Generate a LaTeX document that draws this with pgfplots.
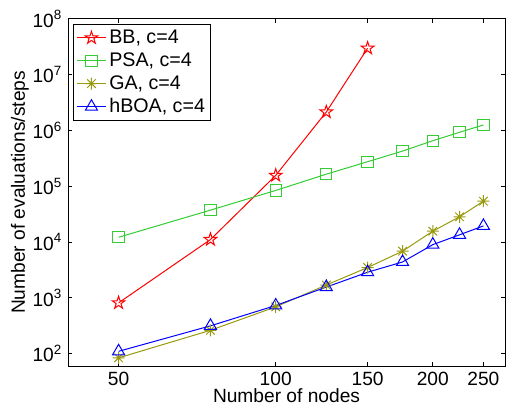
\documentclass[border=0pt]{standalone}
\usepackage{pgfplots}
\pgfplotsset{compat=1.18}
\usepackage{fontspec}
\setmainfont{Liberation Sans}
\usetikzlibrary{calc}

% open five-pointed star (MATLAB 'p')
\pgfdeclareplotmark{pentagram}{%
  \pgfpathmoveto{\pgfpointpolar{90}{\pgfplotmarksize}}%
  \pgfpathlineto{\pgfpointpolar{126}{0.382\pgfplotmarksize}}%
  \pgfpathlineto{\pgfpointpolar{162}{\pgfplotmarksize}}%
  \pgfpathlineto{\pgfpointpolar{198}{0.382\pgfplotmarksize}}%
  \pgfpathlineto{\pgfpointpolar{234}{\pgfplotmarksize}}%
  \pgfpathlineto{\pgfpointpolar{270}{0.382\pgfplotmarksize}}%
  \pgfpathlineto{\pgfpointpolar{306}{\pgfplotmarksize}}%
  \pgfpathlineto{\pgfpointpolar{342}{0.382\pgfplotmarksize}}%
  \pgfpathlineto{\pgfpointpolar{18}{\pgfplotmarksize}}%
  \pgfpathlineto{\pgfpointpolar{54}{0.382\pgfplotmarksize}}%
  \pgfpathclose
  \pgfusepathqstroke}
% eight-armed asterisk (MATLAB '*')
\pgfdeclareplotmark{mstar}{%
  \pgfpathmoveto{\pgfqpoint{-\pgfplotmarksize}{0pt}}\pgfpathlineto{\pgfqpoint{\pgfplotmarksize}{0pt}}%
  \pgfpathmoveto{\pgfqpoint{0pt}{-\pgfplotmarksize}}\pgfpathlineto{\pgfqpoint{0pt}{\pgfplotmarksize}}%
  \pgfpathmoveto{\pgfpointpolar{45}{\pgfplotmarksize}}\pgfpathlineto{\pgfpointpolar{225}{\pgfplotmarksize}}%
  \pgfpathmoveto{\pgfpointpolar{135}{\pgfplotmarksize}}\pgfpathlineto{\pgfpointpolar{315}{\pgfplotmarksize}}%
  \pgfusepathqstroke}

\definecolor{mgreen}{rgb}{0.2,0.8,0.2}
\definecolor{molive}{rgb}{0.6,0.6,0.05}

\begin{document}
\begin{tikzpicture}[font=\fontsize{11.5}{13.8}\selectfont]
\begin{axis}[
    name=ax,
    scale only axis,
    width=262.2pt, height=208.2pt,
    xmode=log, ymode=log,
    xmin=40, xmax=275,
    ymin=60, ymax=1e8,
    xtick={50,100,150,200,250},
    xticklabels={50,100,150,200,250},
    ytick={1e2,1e3,1e4,1e5,1e6,1e7,1e8},
    yticklabels={10\textsuperscript{2},10\textsuperscript{3},10\textsuperscript{4},10\textsuperscript{5},10\textsuperscript{6},10\textsuperscript{7},10\textsuperscript{8}},
    xminorticks=false, yminorticks=false,
    major tick length=2.6pt,
    tick align=inside,
    axis line style={line width=0.6pt},
    every tick/.style={black, line width=0.6pt},
    xlabel={Number of nodes},
    ylabel={Number of evaluations/steps},
    xlabel style={at={(axis description cs:0.5,-0.085)}, anchor=center},
    ylabel style={at={(axis description cs:-0.11,0.5)}, anchor=center},
    legend style={
        at={(axis description cs:0.012,0.985)},
        anchor=north west,
        draw=black, line width=0.6pt,
        inner sep=1.5pt,
        row sep=0.8pt,
        nodes={font=\fontsize{11.8}{14}\selectfont, inner sep=1.6pt},
    },
    legend image code/.code={%
        \draw[mark repeat=2, mark phase=2] plot coordinates {(0cm,0cm) (0.31cm,0cm) (0.62cm,0cm)};},
    legend cell align={left},
    every axis plot/.append style={line width=0.6pt},
]
\addplot[red, mark=pentagram, mark size=4pt, mark options={solid}] coordinates {
    (50,813) (75,11100) (100,157000) (125,2150000) (150,29900000)
};
\addlegendentry{BB, c=4}
\addplot[mgreen, mark=square, mark size=3.4pt] coordinates {
    (50,12200) (75,37400) (100,84300) (125,165000) (150,276000)
    (175,428000) (200,658000) (225,929000) (250,1260000)
};
\addlegendentry{PSA, c=4}
\addplot[molive, mark=mstar, mark size=3.6pt] coordinates {
    (50,84) (75,262) (100,690) (125,1700) (150,3500)
    (175,6870) (200,15700) (225,28400) (250,54200)
};
\addlegendentry{GA, c=4}
\addplot[blue, mark=triangle, mark size=4.2pt] coordinates {
    (50,110) (75,315) (100,730) (125,1560) (150,2880)
    (175,4400) (200,9000) (225,13500) (250,19500)
};
\addlegendentry{hBOA, c=4}
\end{axis}
\pgfresetboundingbox
\path[use as bounding box] ($(ax.south west)+(-40.8pt,-28.8pt)$) rectangle ($(ax.north east)+(0.6pt,11.4pt)$);
\end{tikzpicture}
\end{document}
